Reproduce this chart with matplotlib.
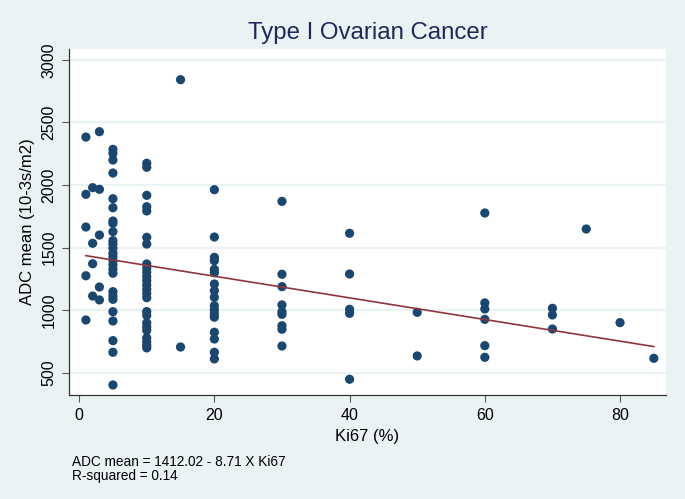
import numpy as np
import matplotlib
matplotlib.use('Agg')
import matplotlib.pyplot as plt

plt.rcParams['font.family'] = ['Liberation Sans', 'DejaVu Sans']

# Ki67 (%) and ADC mean values
ki67 = ([1] * 5 + [2] * 4 + [3] * 5 + [5] * 26 + [10] * 25 + [15] * 2
        + [20] * 17 + [30] * 9 + [40] * 5 + [50] * 2 + [60] * 6 + [70] * 3
        + [75, 80, 85])
adc = [
    # Ki67 = 1
    2383, 1926, 1665, 1276, 923,
    # Ki67 = 2
    1979, 1535, 1372, 1114,
    # Ki67 = 3
    2426, 1966, 1601, 1186, 1083,
    # Ki67 = 5
    2285, 2253, 2200, 2096, 1891, 1819, 1713, 1695, 1628, 1556, 1529, 1495,
    1455, 1428, 1396, 1362, 1327, 1296, 1149, 1115, 1088, 989, 915, 758,
    665, 404,
    # Ki67 = 10
    2174, 2142, 1918, 1827, 1793, 1583, 1529, 1370, 1335, 1303, 1269, 1237,
    1202, 1168, 1136, 1101, 990, 960, 900, 870, 840, 780, 750, 720, 700,
    # Ki67 = 15
    2841, 707,
    # Ki67 = 20
    1963, 1585, 1423, 1396, 1327, 1300, 1210, 1157, 1104, 1037, 1003, 971,
    945, 825, 771, 665, 612,
    # Ki67 = 30
    1870, 1288, 1189, 1043, 989, 968, 877, 849, 715,
    # Ki67 = 40
    1615, 1290, 1008, 976, 450,
    # Ki67 = 50
    984, 636,
    # Ki67 = 60
    1777, 1059, 1011, 928, 718, 625,
    # Ki67 = 70
    1016, 963, 851,
    # 75, 80, 85
    1649, 902, 617,
]

# fitted line as drawn in the picture
fit_intercept = 1445.0
fit_slope = -8.64

xticks = [0, 20, 40, 60, 80]
yticks = [500, 1000, 1500, 2000, 2500, 3000]
title = 'Type I Ovarian Cancer'
note = 'ADC mean = 1412.02 - 8.71 X Ki67\nR-squared = 0.14'

bg = '#eaf2f3'
navy = '#1a476f'
maroon = '#90353b'

x = np.array(ki67, dtype=float)
y = np.array(adc, dtype=float)

fig = plt.figure(figsize=(6.85, 4.99), dpi=100, facecolor=bg)
ax = fig.add_axes([0.1007, 0.2084, 0.8716, 0.6934])
ax.set_facecolor('white')

ax.scatter(x, y, s=44, color=navy, edgecolors='none', zorder=3)

xs = np.array([x.min(), x.max()])
ax.plot(xs, fit_intercept + fit_slope * xs, color=maroon, lw=1.2, zorder=4)

ax.set_xlim(-1.5, 86.8)
ax.set_ylim(324, 3086)
ax.set_xticks(xticks)
ax.set_yticks(yticks)
ax.set_yticklabels([str(v) for v in yticks], rotation=90, va='center')
ax.grid(axis='y', color=bg, lw=1.6, zorder=0)
ax.grid(axis='x', visible=False)
ax.set_axisbelow(True)

for s in ['top', 'right']:
    ax.spines[s].set_visible(False)
for s in ['left', 'bottom']:
    ax.spines[s].set_color('#333333')
    ax.spines[s].set_linewidth(0.9)
ax.tick_params(axis='both', direction='out', length=5, width=0.8,
               color='#555555', labelsize=11.5, labelcolor='black', pad=4)

ax.set_xlabel('Ki67 (%)', fontsize=12, labelpad=5)
ax.set_ylabel('ADC mean (10-3s/m2)', fontsize=12, labelpad=5)
fig.text(0.537, 0.934, title, ha='center', va='center', fontsize=17.3,
         color='#1c2a5a')
fig.text(0.105, 0.088, note, ha='left', va='top', fontsize=9.8,
         linespacing=0.95)

fig.savefig('out.png', dpi=100, facecolor=bg)
